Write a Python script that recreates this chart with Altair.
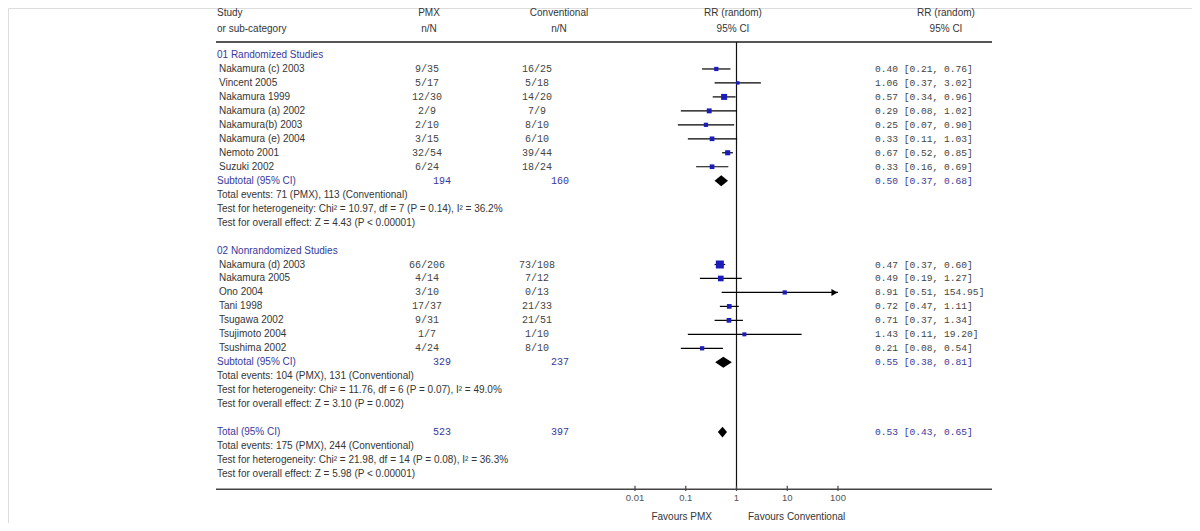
import altair as alt
import pandas as pd

# ---------------- data ----------------
group_names = ["01 Randomized Studies", "02 Nonrandomized Studies"]

rand_studies = ["Nakamura (c) 2003", "Vincent 2005", "Nakamura 1999", "Nakamura (a) 2002",
                "Nakamura(b) 2003", "Nakamura (e) 2004", "Nemoto 2001", "Suzuki 2002"]
rand_pmx = ["9/35", "5/17", "12/30", "2/9", "2/10", "3/15", "32/54", "6/24"]
rand_conv = ["16/25", "5/18", "14/20", "7/9", "8/10", "6/10", "39/44", "18/24"]
rand_rr = [0.40, 1.06, 0.57, 0.29, 0.25, 0.33, 0.67, 0.33]
rand_lo = [0.21, 0.37, 0.34, 0.08, 0.07, 0.11, 0.52, 0.16]
rand_hi = [0.76, 3.02, 0.96, 1.02, 0.90, 1.03, 0.85, 0.69]
rand_weight = [4.5, 3.0, 9.0, 6.0, 4.5, 5.5, 6.5, 5.5]

nonrand_studies = ["Nakamura (d) 2003", "Nakamura 2005", "Ono 2004", "Tani 1998",
                   "Tsugawa 2002", "Tsujimoto 2004", "Tsushima 2002"]
nonrand_pmx = ["66/206", "4/14", "3/10", "17/37", "9/31", "1/7", "4/24"]
nonrand_conv = ["73/108", "7/12", "0/13", "21/33", "21/51", "1/10", "8/10"]
nonrand_rr = [0.47, 0.49, 8.91, 0.72, 0.71, 1.43, 0.21]
nonrand_lo = [0.37, 0.19, 0.51, 0.47, 0.37, 0.11, 0.08]
nonrand_hi = [0.60, 1.27, 154.95, 1.11, 1.34, 19.20, 0.54]
nonrand_weight = [16.0, 8.0, 4.5, 5.5, 5.5, 4.0, 4.5]

subtotal_n_pmx = ["194", "329"]
subtotal_n_conv = ["160", "237"]
subtotal_rr = [0.50, 0.55]
subtotal_lo = [0.37, 0.38]
subtotal_hi = [0.68, 0.81]
group_notes = [
    ["Total events: 71 (PMX), 113 (Conventional)",
     "Test for heterogeneity: Chi\u00b2 = 10.97, df = 7 (P = 0.14), I\u00b2 = 36.2%",
     "Test for overall effect: Z = 4.43 (P < 0.00001)"],
    ["Total events: 104 (PMX), 131 (Conventional)",
     "Test for heterogeneity: Chi\u00b2 = 11.76, df = 6 (P = 0.07), I\u00b2 = 49.0%",
     "Test for overall effect: Z = 3.10 (P = 0.002)"],
]
total_n_pmx = "523"
total_n_conv = "397"
total_rr = 0.53
total_lo = 0.43
total_hi = 0.65
total_notes = ["Total events: 175 (PMX), 244 (Conventional)",
               "Test for heterogeneity: Chi\u00b2 = 21.98, df = 14 (P = 0.08), I\u00b2 = 36.3%",
               "Test for overall effect: Z = 5.98 (P < 0.00001)"]

tick_values = [0.01, 0.1, 1, 10, 100]
tick_labels = ["0.01", "0.1", "1", "10", "100"]
favours_left = "Favours PMX"
favours_right = "Favours Conventional"

# ---------------- build tables ----------------
studies = [rand_studies, nonrand_studies]
pmx = [rand_pmx, nonrand_pmx]
conv = [rand_conv, nonrand_conv]
rr = [rand_rr, nonrand_rr]
lo = [rand_lo, nonrand_lo]
hi = [rand_hi, nonrand_hi]
wt = [rand_weight, nonrand_weight]

XMAX = tick_values[-1]


def fmt(a, b, c):
    return f"{a:.2f} [{b:.2f}, {c:.2f}]"


label_rows, study_rows, sum_rows = [], [], []
r = 0
for g in range(2):
    label_rows.append(dict(row=r, text=group_names[g], kind="blue"))
    r += 1
    for i, s in enumerate(studies[g]):
        study_rows.append(dict(row=r, study=s, pmx=pmx[g][i], conv=conv[g][i],
                               rr=rr[g][i], lo=lo[g][i], hi=min(hi[g][i], XMAX),
                               clipped=hi[g][i] > XMAX, w=wt[g][i],
                               rrtext=fmt(rr[g][i], lo[g][i], hi[g][i])))
        r += 1
    sum_rows.append(dict(row=r, label="Subtotal (95% CI)", npmx=subtotal_n_pmx[g],
                         nconv=subtotal_n_conv[g], rr=subtotal_rr[g], lo=subtotal_lo[g],
                         hi=subtotal_hi[g],
                         rrtext=fmt(subtotal_rr[g], subtotal_lo[g], subtotal_hi[g])))
    r += 1
    for note in group_notes[g]:
        label_rows.append(dict(row=r, text=note, kind="dark"))
        r += 1
    r += 1
sum_rows.append(dict(row=r, label="Total (95% CI)", npmx=total_n_pmx, nconv=total_n_conv,
                     rr=total_rr, lo=total_lo, hi=total_hi,
                     rrtext=fmt(total_rr, total_lo, total_hi)))
r += 1
for note in total_notes:
    label_rows.append(dict(row=r, text=note, kind="dark"))
    r += 1
LAST = r - 1

labels_df = pd.DataFrame(label_rows)
studies_df = pd.DataFrame(study_rows)
sums_df = pd.DataFrame(sum_rows)

HALF = 0.39
dia = []
for k, s in enumerate(sum_rows):
    dia += [dict(g=k, x=s["lo"], y1=s["row"], y2=s["row"]),
            dict(g=k, x=s["rr"], y1=s["row"] - HALF, y2=s["row"] + HALF),
            dict(g=k, x=s["hi"], y1=s["row"], y2=s["row"])]
dia_df = pd.DataFrame(dia)

ROW_HDR1, ROW_HDR2 = -3.0, -1.86
ROW_TOP = -0.93
ROW_AXIS = LAST + 1.1
headers_df = pd.DataFrame([
    dict(row=ROW_HDR1, a="Study", b="PMX", c="Conventional", d="RR (random)"),
    dict(row=ROW_HDR2, a="or sub-category", b="n/N", c="n/N", d="95% CI"),
])
ticks_df = pd.DataFrame(dict(v=tick_values, lab=tick_labels))

# ---------------- scales / styles ----------------
yscale = alt.Scale(domain=[0, LAST], range=[47, 466])
xscale = alt.Scale(type="log", domain=[0.01, 100], range=[627, 830])
Y = alt.Y("row:Q", scale=yscale, axis=None)
SANS = "Liberation Sans"
MONO = "Liberation Mono"
DARK = "#353535"
BLUE = "#38389c"
kind_color = alt.Color("kind:N", scale=alt.Scale(domain=["dark", "blue"], range=[DARK, BLUE]),
                       legend=None)


def txt(df, **kw):
    base = dict(baseline="middle", font=SANS, fontSize=10, color=DARK)
    base.update(kw)
    return alt.Chart(df).mark_text(**base)


layers = []
# headers
hx = [("a", 209, "left"), ("b", 421, "center"), ("c", 551, "center"), ("d", 725, "center")]
for col, xv, al in hx:
    layers.append(txt(headers_df, align=al).encode(x=alt.value(xv), y=Y, text=f"{col}:N"))
layers.append(txt(headers_df, align="center").encode(x=alt.value(938), y=Y, text="d:N"))

# left labels (group headers and notes)
layers.append(txt(labels_df, align="left").encode(x=alt.value(209), y=Y, text="text:N",
                                                   color=kind_color))
# studies
layers.append(txt(studies_df, align="left").encode(x=alt.value(211), y=Y, text="study:N"))
layers.append(txt(studies_df, align="center", font=MONO, fontSize=10, color="#444")
              .encode(x=alt.value(419), y=Y, text="pmx:N"))
layers.append(txt(studies_df, align="center", font=MONO, fontSize=10, color="#444")
              .encode(x=alt.value(529), y=Y, text="conv:N"))
layers.append(txt(studies_df, align="left", font=MONO, fontSize=9.6, color="#444")
              .encode(x=alt.value(867), y=Y, text="rrtext:N"))
# summary rows
layers.append(txt(sums_df, align="left", color=BLUE).encode(x=alt.value(209), y=Y, text="label:N"))
layers.append(txt(sums_df, align="center", font=MONO, fontSize=10, color=BLUE)
              .encode(x=alt.value(434), y=Y, text="npmx:N"))
layers.append(txt(sums_df, align="center", font=MONO, fontSize=10, color=BLUE)
              .encode(x=alt.value(552), y=Y, text="nconv:N"))
layers.append(txt(sums_df, align="left", font=MONO, fontSize=9.6, color=BLUE)
              .encode(x=alt.value(867), y=Y, text="rrtext:N"))

# lines: top rule, axis line, vertical null line
layers.append(alt.Chart(pd.DataFrame(dict(row=[ROW_TOP]))).mark_rule(color="#555", strokeWidth=2)
              .encode(x=alt.value(208), x2=alt.value(984), y=Y))
layers.append(alt.Chart(pd.DataFrame(dict(row=[ROW_AXIS]))).mark_rule(color="#444", strokeWidth=1.5)
              .encode(x=alt.value(208), x2=alt.value(984), y=Y))
layers.append(alt.Chart(pd.DataFrame(dict(v=[1], row=[ROW_TOP], row2=[ROW_AXIS])))
              .mark_rule(color="#111", strokeWidth=1.2)
              .encode(x=alt.X("v:Q", scale=xscale, axis=None), y=Y, y2="row2:Q"))
# ticks
layers.append(alt.Chart(ticks_df).transform_calculate(row=f"{ROW_AXIS - 0.25}",
                                                      row2=f"{ROW_AXIS + 0.12}")
              .mark_rule(color="#444", strokeWidth=1.2)
              .encode(x=alt.X("v:Q", scale=xscale, axis=None), y=Y, y2="row2:Q"))
layers.append(alt.Chart(ticks_df).transform_calculate(row=f"{ROW_AXIS + 0.62}")
              .mark_text(baseline="middle", font=SANS, fontSize=9.5, color="#555")
              .encode(x=alt.X("v:Q", scale=xscale, axis=None), y=Y, text="lab:N"))
layers.append(alt.Chart(pd.DataFrame(dict(t=[favours_left], row=[ROW_AXIS + 1.98])))
              .mark_text(baseline="middle", align="right", font=SANS, fontSize=10, color=DARK)
              .encode(x=alt.value(704), y=Y, text="t:N"))
layers.append(alt.Chart(pd.DataFrame(dict(t=[favours_right], row=[ROW_AXIS + 1.98])))
              .mark_text(baseline="middle", align="left", font=SANS, fontSize=10, color=DARK)
              .encode(x=alt.value(740), y=Y, text="t:N"))

# CI lines
layers.append(alt.Chart(studies_df).mark_rule(color="#000", strokeWidth=1.2)
              .encode(x=alt.X("lo:Q", scale=xscale, axis=None), x2="hi:Q", y=Y))
# arrowheads for clipped CIs
layers.append(alt.Chart(studies_df).transform_filter("datum.clipped")
              .mark_point(shape="triangle-right", filled=True, size=50, color="#000",
                          opacity=1, xOffset=-3.5)
              .encode(x=alt.X("hi:Q", scale=xscale, axis=None), y=Y))
# squares
layers.append(alt.Chart(studies_df).mark_square(color="#1c1cb8", opacity=1)
              .encode(x=alt.X("rr:Q", scale=xscale, axis=None), y=Y,
                      size=alt.Size("w:Q", scale=alt.Scale(domain=[0, 16], range=[0, 64]),
                                    legend=None)))
# diamonds
layers.append(alt.Chart(dia_df).mark_area(color="#000", orient="vertical", opacity=1)
              .encode(x=alt.X("x:Q", scale=xscale, axis=None),
                      y=alt.Y("y1:Q", scale=yscale, axis=None), y2="y2:Q", detail="g:N"))

chart = alt.layer(*layers).properties(
    width=1184, height=515, padding=0,
    autosize=alt.AutoSizeParams(type="none"),
).configure_view(stroke=None).configure(background="white")

chart.save("out.html", embed_options={"renderer": "svg", "actions": False})
